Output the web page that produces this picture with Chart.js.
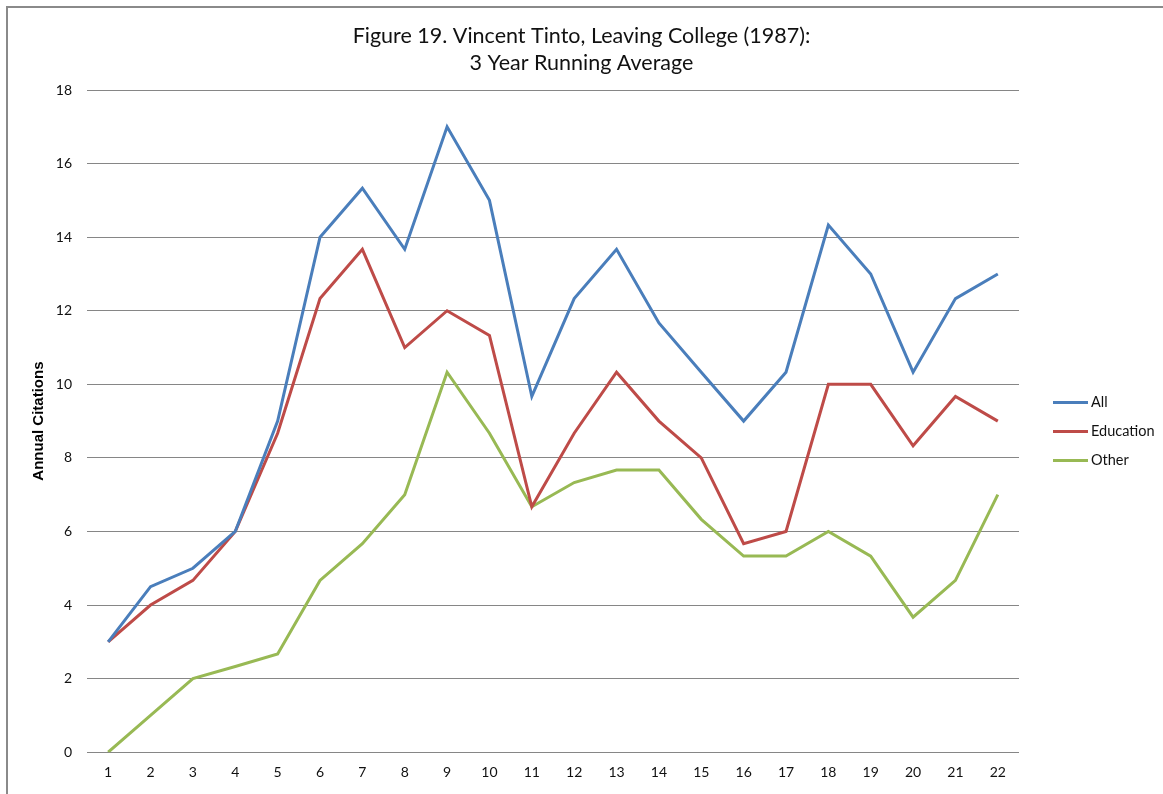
<!DOCTYPE html>
<html>
<head>
<meta charset="utf-8">
<script src="https://cdn.jsdelivr.net/npm/chart.js@4"></script>
<style>
  html, body { margin: 0; padding: 0; background: #fff; }
  #wrap { position: relative; width: 1163px; height: 794px; overflow: hidden; }
  #frame { position: absolute; left: 6px; top: 6px; width: 1200px; height: 900px;
           border-top: 2px solid #8a8a8a; border-left: 2px solid #8a8a8a; pointer-events: none; }
  canvas { position: absolute; left: 0; top: 0; }
  #legend { position: absolute; left: 1053px; top: 390px; font-family: Lato, sans-serif; font-size: 14.5px; color: #111; }
  #legend .item { position: relative; height: 29px; line-height: 24px; white-space: nowrap; }
  #legend .swatch { display: inline-block; width: 35px; height: 3px; vertical-align: middle; margin-right: 3px; position: relative; top: -1px; }
</style>
</head>
<body>
<div id="wrap">
  <canvas id="chart" width="1163" height="794"></canvas>
  <div id="legend"></div>
  <div id="frame"></div>
</div>
<script>
// years since publication
const categories = ['1','2','3','4','5','6','7','8','9','10','11','12','13','14','15','16','17','18','19','20','21','22'];

const allValues = [3, 4.5, 5, 6, 9, 14, 15.33, 13.67, 17, 15, 9.67, 12.33, 13.67, 11.67, 10.33, 9, 10.33, 14.33, 13, 10.33, 12.33, 13];
const educationValues = [3, 4, 4.67, 6, 8.67, 12.33, 13.67, 11, 12, 11.33, 6.67, 8.67, 10.33, 9, 8, 5.67, 6, 10, 10, 8.33, 9.67, 9];
const otherValues = [0, 1, 2, 2.33, 2.67, 4.67, 5.67, 7, 10.33, 8.67, 6.67, 7.33, 7.67, 7.67, 6.33, 5.33, 5.33, 6, 5.33, 3.67, 4.67, 7];

const titleLines = ['Figure 19. Vincent Tinto, Leaving College (1987):', '3 Year Running Average'];
const yTitle = 'Annual Citations';

const makeSeries = (label, data, color) => ({
  label: label,
  data: data,
  borderColor: color,
  backgroundColor: color,
  borderWidth: 3,
  pointRadius: 0,
  tension: 0,
});

const chart = new Chart(document.getElementById('chart').getContext('2d'), {
  type: 'line',
  data: {
    labels: categories,
    datasets: [
      makeSeries('All', allValues, '#4a7ebb'),
      makeSeries('Education', educationValues, '#be4b48'),
      makeSeries('Other', otherValues, '#98b954'),
    ]
  },
  options: {
    responsive: false,
    devicePixelRatio: 1,
    animation: false,
    layout: { padding: { left: 0, right: 0, top: 0, bottom: 1 } },
    plugins: {
      tooltip: { enabled: false },
      legend: { display: false },
      title: {
        display: true,
        text: titleLines,
        color: '#111',
        font: { family: 'Lato', size: 21.5, weight: 'normal', lineHeight: 27 / 21.5 },
        padding: { top: 23, bottom: 13 }
      }
    },
    scales: {
      x: {
        offset: true,
        grid: { display: false, drawTicks: false },
        border: { display: false },
        ticks: { color: '#111', padding: 12, font: { family: 'Lato', size: 14 }, maxRotation: 0 }
      },
      y: {
        min: 0,
        max: 18,
        afterFit: (scale) => { scale.width = 87; },
        grid: { color: '#868686', lineWidth: 1, drawTicks: false },
        border: { display: false },
        ticks: { stepSize: 2, color: '#111', padding: 15, font: { family: 'Lato', size: 14 } },
        title: {
          display: true,
          text: yTitle,
          color: '#000',
          font: { family: 'Liberation Sans', size: 15, weight: 'bold' },
          padding: { top: 30, bottom: 0 }
        }
      },
      // empty right-hand strip that leaves room for the legend
      legendSpace: {
        position: 'right',
        afterFit: (scale) => { scale.width = 144; },
        grid: { display: false, drawTicks: false },
        border: { display: false },
        ticks: { display: false }
      }
    }
  }
});

// html legend built from the datasets
const legendEl = document.getElementById('legend');
chart.data.datasets.forEach((ds) => {
  const item = document.createElement('div');
  item.className = 'item';
  const sw = document.createElement('span');
  sw.className = 'swatch';
  sw.style.background = ds.borderColor;
  item.appendChild(sw);
  item.appendChild(document.createTextNode(ds.label));
  legendEl.appendChild(item);
});
</script>
</body>
</html>
